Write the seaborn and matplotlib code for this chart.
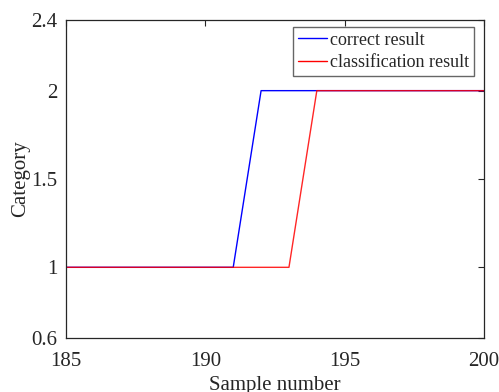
import numpy as np
import pandas as pd
import matplotlib
matplotlib.use("Agg")
import matplotlib.pyplot as plt
import seaborn as sns

# sample index and category for each series
samples = [185, 186, 187, 188, 189, 190, 191, 192, 193, 194, 195, 196, 197, 198, 199, 200]
correct = [1, 1, 1, 1, 1, 1, 1, 2, 2, 2, 2, 2, 2, 2, 2, 2]
classified = [1, 1, 1, 1, 1, 1, 1, 1, 1, 2, 2, 2, 2, 2, 2, 2]

sns.set_style("white")
plt.rcParams["font.family"] = ["Liberation Serif", "DejaVu Serif"]

fig = plt.figure(figsize=(4.99, 3.92), dpi=100)
ax = fig.add_axes([0.1323, 0.1378, 0.970 - 0.1323, 0.949 - 0.1378])

df = pd.DataFrame({"Sample": samples, "correct result": correct,
                   "classification result": classified})

sns.lineplot(data=df, x="Sample", y="correct result", ax=ax, color="#0000ff",
             linewidth=1.0, label="correct result")
sns.lineplot(data=df, x="Sample", y="classification result", ax=ax, color="#ff0000",
             alpha=0.85, linewidth=1.0, label="classification result")

ax.set_xlim(185, 200)
ax.set_ylim(0.6, 2.4)
ax.set_xticks([185, 190, 195, 200])
ax.set_yticks([0.6, 1, 1.5, 2, 2.4])
ax.set_yticklabels(["0.6", "1", "1.5", "2", "2.4"])
ax.tick_params(direction="in", length=4, width=0.8, labelsize=15, color="#262626",
               labelcolor="#262626", top=True, right=True)
ax.tick_params(axis="y", pad=6)
ax.tick_params(axis="x", pad=10)
for s in ax.spines.values():
    s.set_linewidth(0.9)
    s.set_color("#262626")

ax.set_xlabel("Sample number", fontsize=15, color="#262626", labelpad=3.5)
ax.set_ylabel("Category", fontsize=15, color="#262626", labelpad=1)

leg = ax.legend(loc="upper right", bbox_to_anchor=(0.976, 0.978), fontsize=13,
                frameon=True, fancybox=False, edgecolor="#404040", borderpad=0.25,
                handlelength=1.6, handletextpad=0.2, labelspacing=0.32,
                borderaxespad=0)
leg.get_frame().set_linewidth(1.0)
for h in leg.get_lines():
    h.set_alpha(1)
    h.set_linewidth(1.0)

fig.savefig("out.png", dpi=100)
